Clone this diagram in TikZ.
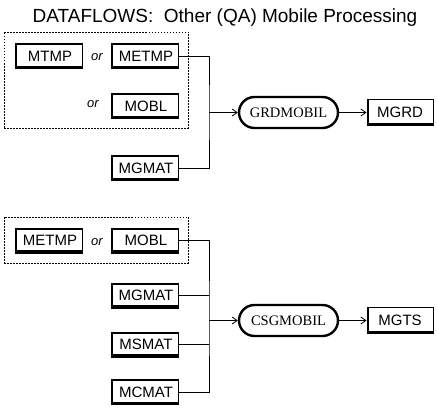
\documentclass[tikz,border=0pt]{standalone}
\usepackage{fontspec}
\setmainfont{Liberation Serif}
\setsansfont{Liberation Sans}
\usetikzlibrary{arrows.meta,shapes.misc}
\tikzset{
  databox/.style={draw, line width=0.9pt, minimum width=67pt, minimum height=25pt, inner sep=0pt,
    font=\sffamily\fontsize{15}{16}\selectfont, execute at begin node=\hspace*{3pt},
    path picture={
      \fill (path picture bounding box.south west) rectangle ([yshift=2.8pt]path picture bounding box.south east);
      \fill (path picture bounding box.north west) rectangle ([yshift=-1.8pt]path picture bounding box.north east);
      \fill (path picture bounding box.south west) rectangle ([xshift=1.8pt]path picture bounding box.north west);
    }},
  outbox/.style={draw, line width=0.9pt, minimum width=66pt, minimum height=26pt, inner sep=0pt,
    font=\sffamily\fontsize{15}{16}\selectfont,
    path picture={
      \fill (path picture bounding box.south west) rectangle ([yshift=2.8pt]path picture bounding box.south east);
      \fill (path picture bounding box.south west) rectangle ([xshift=1.8pt]path picture bounding box.north west);
    }},
  procbox/.style={draw, rounded rectangle, line width=2.4pt, minimum width=99pt, minimum height=31pt,
    inner sep=0pt, font=\rmfamily\fontsize{14.5}{15}\selectfont},
  ortext/.style={font=\sffamily\itshape\fontsize{13}{14}\selectfont, inner sep=0pt},
  grp/.style={draw, dashed, line width=0.7pt, dash pattern=on 1.5pt off 1.5pt},
  wire/.style={line width=0.9pt},
  flow/.style={line width=0.9pt, -{Straight Barb[length=5pt,width=7pt,line width=0.8pt]}},
}
\begin{document}
\begin{tikzpicture}[x=1pt,y=-1pt]
\useasboundingbox (0,0) rectangle (437,409);
\node[anchor=base, inner sep=0pt, font=\sffamily\fontsize{19}{21}\selectfont] (title) at (225,23) {DATAFLOWS:\ \ Other (QA) Mobile Processing};

% top group
\node[grp, minimum width=184pt, minimum height=96pt, inner sep=0pt] (g1) at (96,80) {};
\node[databox] (mtmp) at (48.5,56) {MTMP};
\node[ortext] (or1) at (97,57) {or};
\node[databox] (metmp1) at (144.5,56) {METMP};
\node[ortext] (or2) at (93,104) {or};
\node[databox] (mobl1) at (144.5,106) {MOBL};
\node[databox] (mgmat1) at (144.5,168) {MGMAT};
\coordinate (j1) at (209,112.5);
\node[procbox] (grd) at (288.5,112.5) {GRDMOBIL};
\node[outbox] (mgrd) at (400,112.5) {MGRD};
\draw[wire] (metmp1.east) -| (j1) |- (mgmat1.east);
\draw[flow] (j1) -- (grd.west);
\draw[flow] (grd.east) -- (mgrd.west);

% bottom group
\node[grp, minimum width=184pt, minimum height=46pt, inner sep=0pt] (g2) at (96,240) {};
\node[databox] (metmp2) at (48.5,240.5) {METMP};
\node[ortext] (or3) at (97,242) {or};
\node[databox] (mobl2) at (144.5,240.5) {MOBL};
\node[databox] (mgmat2) at (144.5,295.5) {MGMAT};
\node[databox] (msmat) at (144.5,344.5) {MSMAT};
\node[databox] (mcmat) at (144.5,392) {MCMAT};
\coordinate (j2) at (209,320.5);
\node[procbox] (csg) at (288.5,320.5) {CSGMOBIL};
\node[outbox] (mgts) at (400,320.5) {MGTS};
\draw[wire] (mobl2.east) -| (j2) |- (mcmat.east);
\draw[wire] (mgmat2.east) -- (mgmat2.east -| j2);
\draw[wire] (msmat.east) -- (msmat.east -| j2);
\draw[flow] (j2) -- (csg.west);
\draw[flow] (csg.east) -- (mgts.west);
\end{tikzpicture}
\end{document}
